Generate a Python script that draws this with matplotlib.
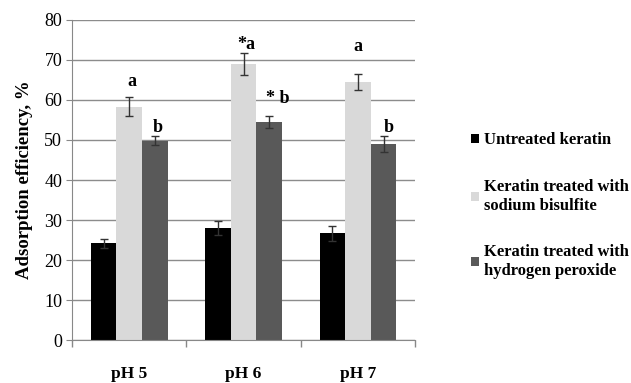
import matplotlib
matplotlib.use("Agg")
import matplotlib.pyplot as plt
import numpy as np

categories = ["pH 5", "pH 6", "pH 7"]
series_names = ["Untreated keratin", "Keratin treated with\nsodium bisulfite",
                "Keratin treated with\nhydrogen peroxide"]
untreated = [24.2, 28.0, 26.7]
untreated_err = [1.1, 1.8, 1.9]
bisulfite = [58.3, 69.0, 64.5]
bisulfite_err = [2.4, 2.8, 2.0]
peroxide = [49.8, 54.5, 48.9]
peroxide_err = [1.1, 1.5, 2.0]
bisulfite_labels = ["a", "*a", "a"]
peroxide_labels = ["b", "* b", "b"]
colors = ["#000000", "#d9d9d9", "#595959"]

# label placement (style): centre heights in axis units, x shift in bar widths
bis_label_y = [64.5, 73.8, 73.3]
per_label_y = [53.2, 60.3, 53.2]
bis_label_dx = [0.1, 0.12, 0.0]
per_label_dx = [0.12, 0.35, 0.18]

plt.rcParams['font.family'] = ['Liberation Serif', 'DejaVu Serif']

fig = plt.figure(figsize=(6.31, 3.83), dpi=100)
ax = fig.add_axes([0.114, 0.112, 0.544, 0.836])

x = np.arange(len(categories))
w = 0.224
vals = [untreated, bisulfite, peroxide]
errs = [untreated_err, bisulfite_err, peroxide_err]
for i, (v, e) in enumerate(zip(vals, errs)):
    ax.bar(x + (i - 1) * w, v, w, color=colors[i], label=series_names[i], zorder=2,
           yerr=e, error_kw=dict(ecolor="#333333", elinewidth=1, capsize=2.6, capthick=1, zorder=3))

for xi, ly, dx, lab in zip(x, bis_label_y, bis_label_dx, bisulfite_labels):
    ax.text(xi + dx * w, ly, lab, ha="center", va="center", fontsize=13, fontweight="bold")
for xi, ly, dx, lab in zip(x, per_label_y, per_label_dx, peroxide_labels):
    ax.text(xi + w + dx * w, ly, lab, ha="center", va="center", fontsize=13, fontweight="bold")

ax.set_xlim(-0.5, 2.5)
ax.set_ylim(0, 80)
ax.set_yticks(np.arange(0, 81, 10))
ax.set_xticks(x)
ax.set_xticklabels(categories, fontsize=12.5, fontweight="bold")
ax.set_xticks([-0.5, 0.5, 1.5, 2.5], minor=True)
ax.tick_params(axis="x", which="major", length=0, pad=19)
ax.tick_params(axis="x", which="minor", length=5, color="#888888", width=1)
ax.tick_params(axis="y", length=4, color="#888888", labelsize=13, pad=3)
ax.set_ylabel("Adsorption efficiency, %", fontsize=13.5, fontweight="bold", labelpad=8)
ax.yaxis.grid(True, color="#8c8c8c", linewidth=1, zorder=0)
ax.set_axisbelow(True)
for s in ["top", "right"]:
    ax.spines[s].set_visible(False)
ax.spines["left"].set_color("#888888")
ax.spines["bottom"].set_color("#888888")

leg = fig.legend(loc="upper left", bbox_to_anchor=(0.728, 0.685), frameon=False,
                 prop=dict(size=12, weight="bold"), handlelength=0.5, handleheight=0.5,
                 handletextpad=0.3, labelspacing=1.85, borderpad=0.2)

fig.savefig("out.png", dpi=100)
